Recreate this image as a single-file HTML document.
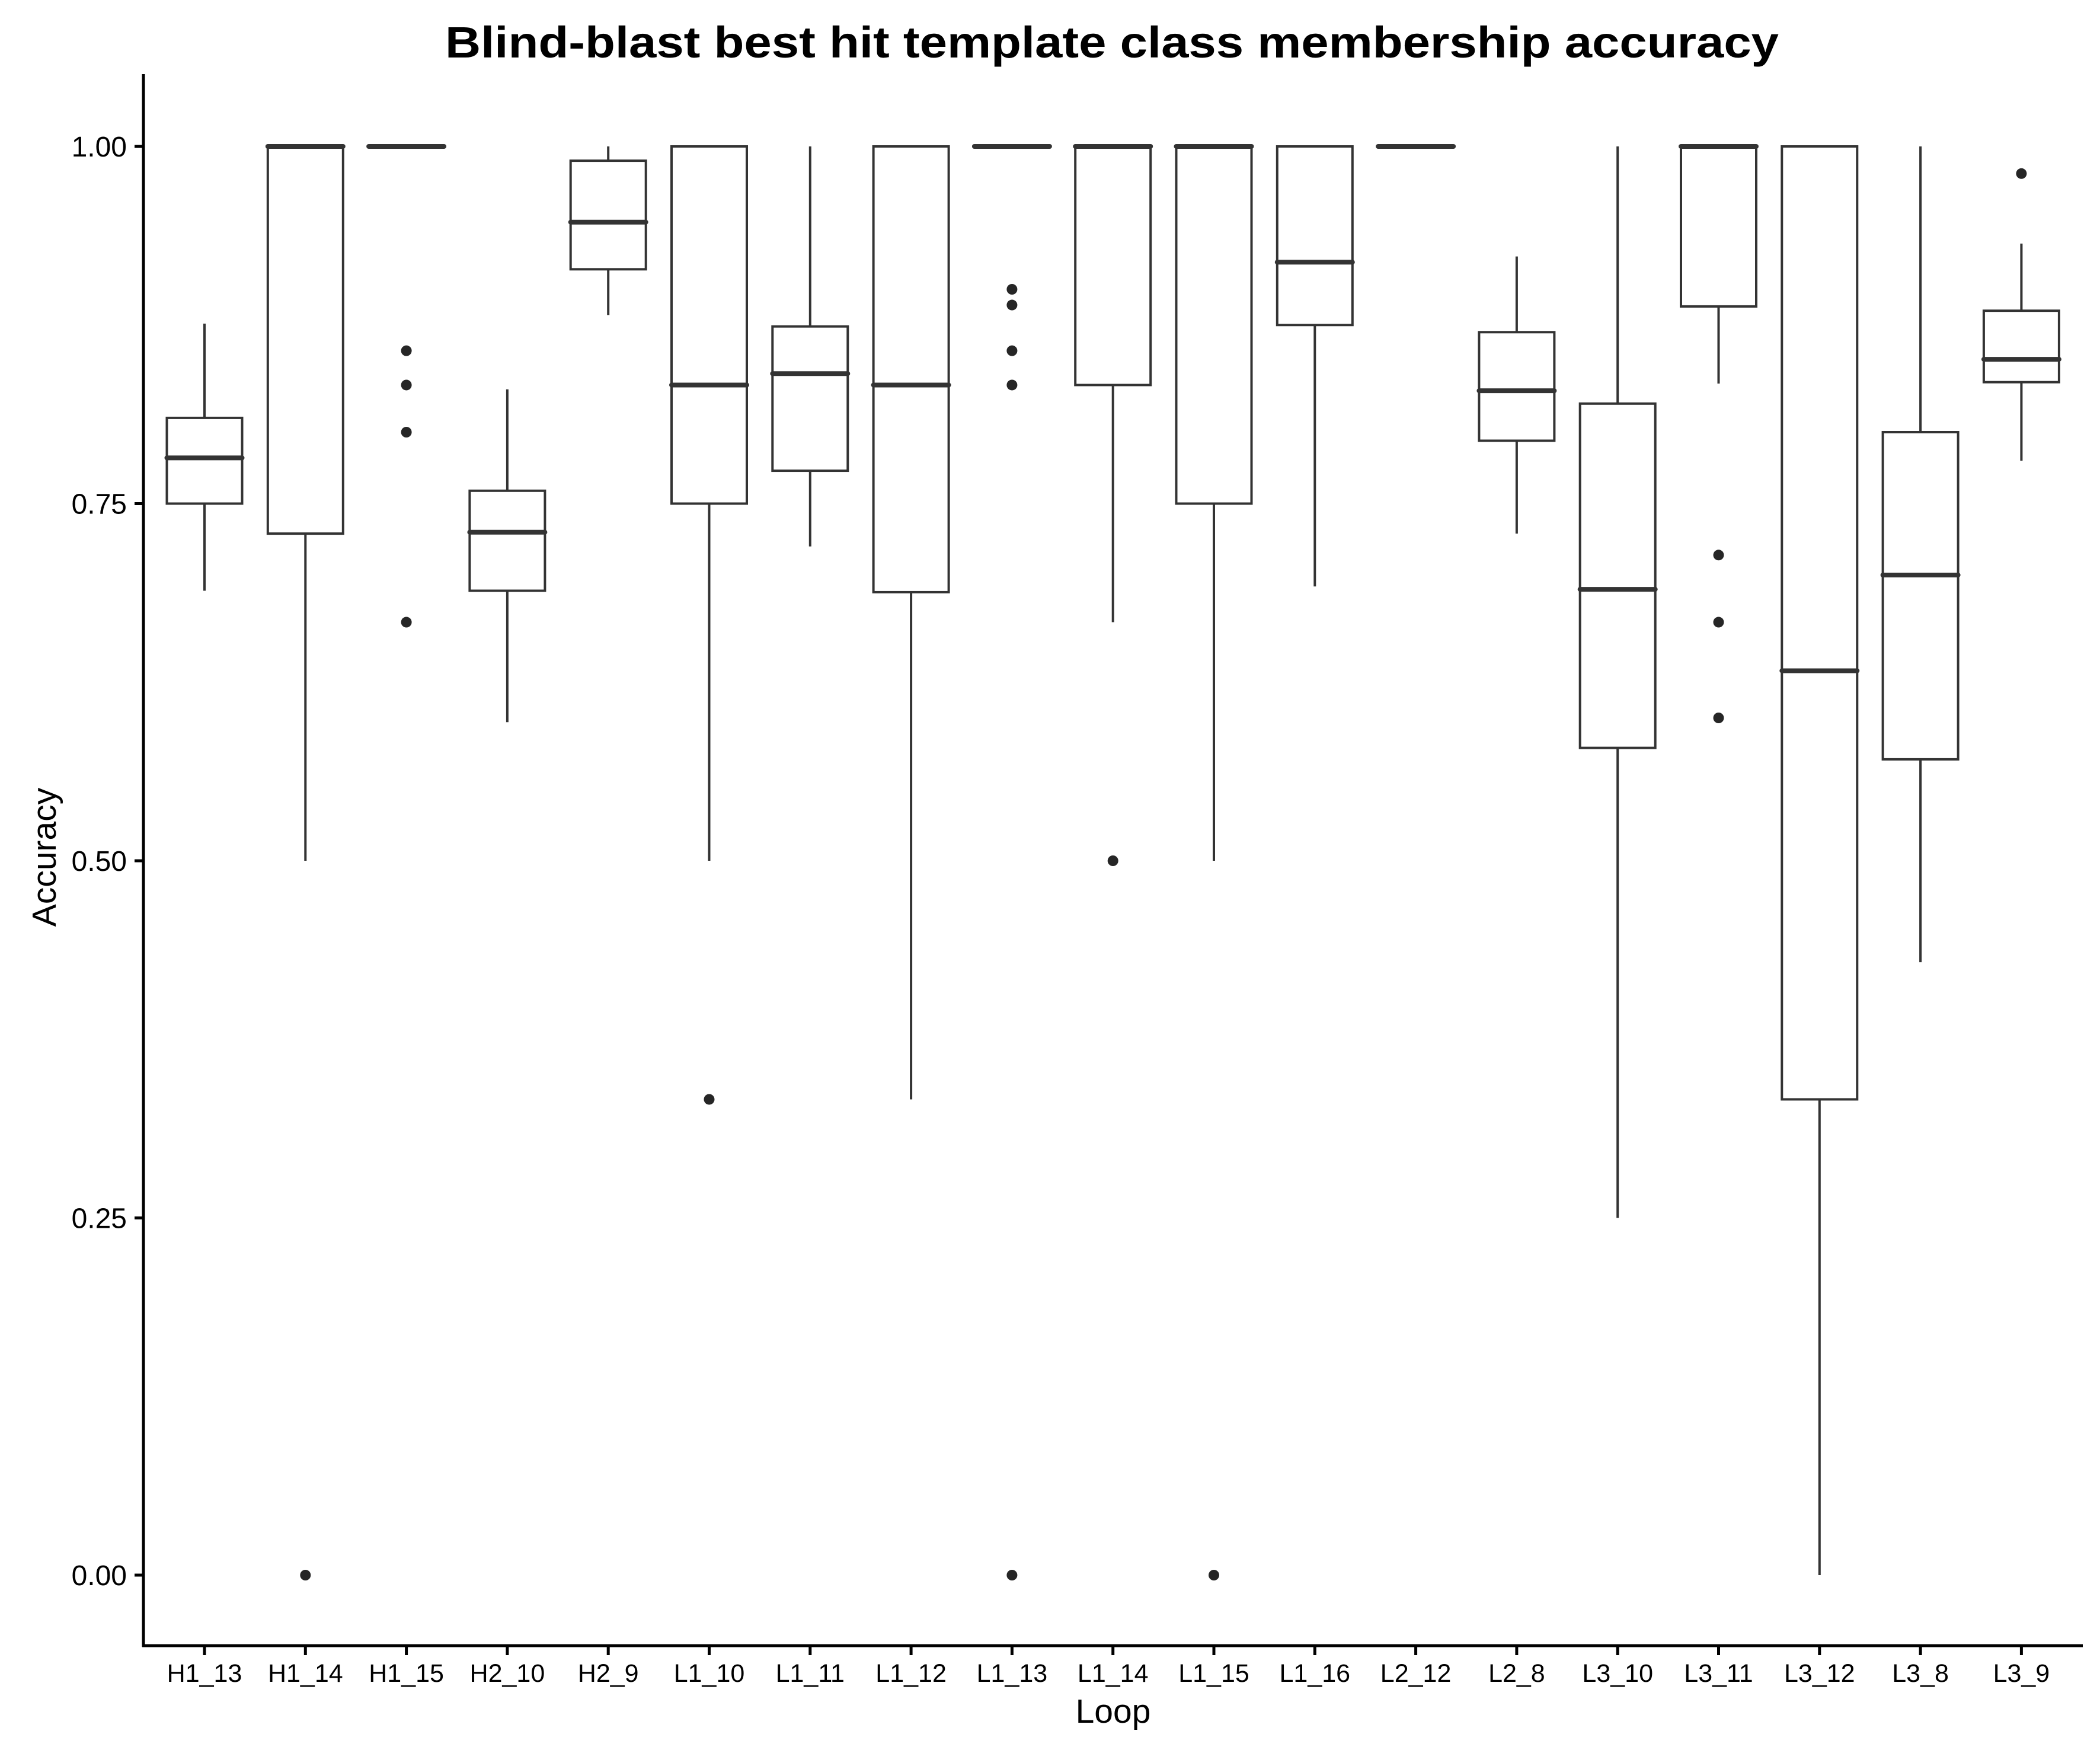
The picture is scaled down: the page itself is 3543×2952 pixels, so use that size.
<!DOCTYPE html>
<html><head><meta charset="utf-8"><style>
html,body{margin:0;padding:0;background:#fff;}
svg{display:block;font-family:"Liberation Sans",Arial,sans-serif;}
</style></head><body>
<svg id="chart" width="3543" height="2952" viewBox="0 0 3543 2952">
<rect width="3543" height="2952" fill="#fff"/>
<text x="1876" y="97" text-anchor="middle" font-size="74" font-weight="bold" textLength="2250" lengthAdjust="spacingAndGlyphs">Blind-blast best hit template class membership accuracy</text>
<g id="marks"></g>
<line x1="242" y1="125" x2="242" y2="2778" stroke="#000" stroke-width="5"/>
<line x1="240" y1="2776" x2="3514" y2="2776" stroke="#000" stroke-width="5"/>
<g id="axes"></g>
<text x="1878" y="2906" text-anchor="middle" font-size="57">Loop</text>
<text transform="translate(94,1446) rotate(-90)" text-anchor="middle" font-size="57">Accuracy</text>
</svg>
<script>
const categories=["H1_13","H1_14","H1_15","H2_10","H2_9","L1_10","L1_11","L1_12","L1_13","L1_14","L1_15","L1_16","L2_12","L2_8","L3_10","L3_11","L3_12","L3_8","L3_9"];
const lowWhisker=[0.689,0.5,1,0.597,0.882,0.5,0.72,0.333,1,0.667,0.5,0.692,1,0.729,0.25,0.834,0,0.429,0.78];
const q1=[0.75,0.729,1,0.689,0.914,0.75,0.773,0.688,1,0.833,0.75,0.875,1,0.794,0.579,0.888,0.333,0.571,0.835];
const medians=[0.782,1,1,0.73,0.947,0.833,0.841,0.833,1,1,1,0.919,1,0.829,0.69,1,0.633,0.7,0.851];
const q3=[0.81,1,1,0.759,0.99,1,0.874,1,1,1,1,1,1,0.87,0.82,1,1,0.8,0.885];
const highWhisker=[0.876,1,1,0.83,1,1,1,1,1,1,1,1,1,0.923,1,1,1,1,0.932];
const outliers=[[],[0],[0.857,0.833,0.8,0.667],[],[],[0.333],[],[],[0.9,0.889,0.857,0.833,0],[0.5],[0],[],[],[],[],[0.714,0.667,0.6],[],[],[0.981]];
const yTicks=[0,0.25,0.5,0.75,1];
const yTickLabels=["0.00","0.25","0.50","0.75","1.00"];

const NS="http://www.w3.org/2000/svg";
const xPos=i=>345+i*170.3;
const yPos=v=>2657-v*2410;
const BW=127;
function mk(tag,attrs,parent){const e=document.createElementNS(NS,tag);for(const k in attrs)e.setAttribute(k,attrs[k]);parent.appendChild(e);return e;}
const marks=document.getElementById('marks');
const axes=document.getElementById('axes');
categories.forEach((c,i)=>{
  const g=mk('g',{},marks);
  
  
  const x=xPos(i),c1="#333";
  const w1=mk('line',{x1:x,x2:x,y1:yPos(highWhisker[i]),y2:yPos(q3[i]),stroke:c1,'stroke-width':4},g);
  
  
  const w2=mk('line',{x1:x,x2:x,y1:yPos(q1[i]),y2:yPos(lowWhisker[i]),stroke:c1,'stroke-width':4},g);
  
  
  const r=mk('rect',{x:x-BW/2,y:yPos(q3[i]),width:BW,height:Math.max(0,yPos(q1[i])-yPos(q3[i])),fill:'#fff',stroke:c1,'stroke-width':4},g);
  
  
  const m=mk('line',{x1:x-BW/2,x2:x+BW/2,y1:yPos(medians[i]),y2:yPos(medians[i]),stroke:c1,'stroke-width':8,'stroke-linecap':'round'},g);
  
  
  outliers[i].forEach(v=>{
    const o=mk('circle',{cx:x,cy:yPos(v),r:9,fill:'#262626'},g);
    
    
  });
  const t=mk('line',{x1:x,x2:x,y1:2776,y2:2792,stroke:'#000',"stroke-width":5},axes);
  
  
  const l=mk('text',{x:x,y:2837,'text-anchor':'middle','font-size':43},axes);
  l.textContent=c;
  
  
});
yTicks.forEach((v,i)=>{
  const y=yPos(v);
  const t=mk('line',{x1:227,x2:242,y1:y,y2:y,stroke:'#000','stroke-width':5},axes);
  
  
  const l=mk('text',{x:214,y:y+17,'text-anchor':'end','font-size':48},axes);
  l.textContent=yTickLabels[i];
  
  
});
</script>
</body></html>
